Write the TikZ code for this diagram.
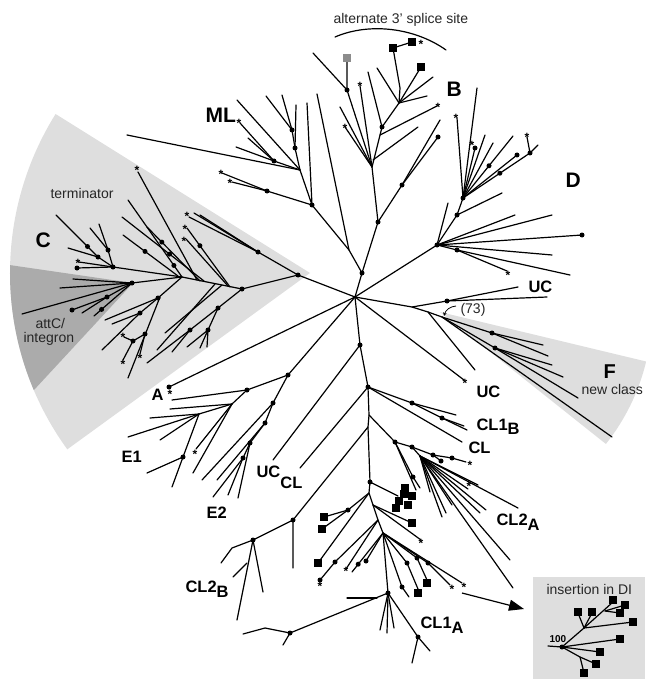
\documentclass[tikz,border=0pt]{standalone}
\usepackage{fontspec}
\setmainfont{Liberation Sans}
\usetikzlibrary{arrows.meta}
\definecolor{shadeL}{HTML}{DEDEDE}
\definecolor{shadeD}{HTML}{ABABAB}
\definecolor{sqgray}{HTML}{8C8C8C}

\begin{document}
\begin{tikzpicture}[
    x=1pt, y=-1pt,
    >=Stealth,
    br/.style={line width=1.2pt, line cap=round, line join=round},
    dot/.style={circle, fill, inner sep=0pt, minimum size=5pt},
    ast/.style={inner sep=0pt, yshift=-2.6pt, font=\bfseries\fontsize{12}{12}\selectfont},
    sq/.style={fill, inner sep=0pt, minimum size=8pt},
    big/.style={anchor=base west, font=\bfseries\fontsize{21}{21}\selectfont},
    lab/.style={anchor=base west, font=\bfseries\fontsize{16.5}{16.5}\selectfont},
    note/.style={anchor=base west, font=\fontsize{14}{14}\selectfont, text=black!85},
]
\useasboundingbox (0,0) rectangle (645,679);

% shaded clades
\fill[shadeL] (310,273) -- ++(212:300) arc[start angle=212, end angle=144, radius=300] -- cycle;
\fill[shadeD] (133,283) -- (10.1,265.1) arc[start angle=181.5, end angle=157, radius=300] -- cycle;
\fill[shadeL] (440,312) -- ++(13.5:212) arc[start angle=13.5, end angle=38.5, radius=212] -- cycle;
\fill[shadeL] (533,577) rectangle (645,679);

\coordinate (hub) at (355,297);

% ML and B
\coordinate (n1) at (362,273);
\coordinate (nA) at (349,250);
\coordinate (MLn) at (312,205);
\coordinate (MLa) at (300,170);
\coordinate (MLb) at (274,161);
\coordinate (MLd) at (295,148);
\coordinate (MLe) at (292,130);
\coordinate (MLf) at (267,191);
\draw[br] (hub) -- (n1) node[dot]{} -- (nA) -- (317,94);
\draw[br] (nA) -- (MLn) node[dot]{} -- (MLa) -- (127,135);
\draw[br] (MLa) -- (MLb) node[dot]{} -- (240,123);
\draw[br] (MLb) -- (236,147);
\draw[br] (MLb) -- (248,138);
\draw[br] (MLa) -- (237,100);
\draw[br] (MLa) -- (MLd) node[dot]{} -- (MLe) node[dot]{} -- (282,95);
\draw[br] (MLe) -- (266,96);
\draw[br] (MLd) -- (296,105);
\draw[br] (MLn) -- (307,103);
\draw[br] (MLn) -- (MLf) node[dot]{} -- (222,173);
\draw[br] (MLf) -- (232,182);

\coordinate (Bn) at (378,222);
\coordinate (Ba) at (372,167);
\coordinate (Bb) at (347,90);
\coordinate (Bc) at (382,127);
\coordinate (Bd) at (399,103);
\coordinate (Be) at (402,185);
\draw[br] (n1) -- (Bn) node[dot]{} -- (Ba) -- (Bc) node[dot]{} -- (Bd) -- (400,88) -- (393,48);
\draw[br] (393,48) -- (412,42);
\draw[br] (Bd) -- (421,67);
\draw[br] (Bd) -- (433,77);
\draw[br] (Bd) -- (427,96);
\draw[br] (Bd) -- (377,68);
\draw[br] (Bc) -- (368,72);
\draw[br] (380,135) -- (437,106);
\draw[br] (373,160) -- (418,127);
\draw[br] (Ba) -- (Bb) node[dot]{} -- (347,58);
\draw[br] (Bb) -- (313,53);
\draw[br] (Ba) -- (360,86);
\draw[br] (Ba) -- (345,127);
\draw[br] (Ba) -- (340,107);
\draw[br] (Bn) -- (Be) node[dot]{} -- (440,120);
\draw[br] (Be) -- (438,137) node[dot]{};

% D
\coordinate (Dn) at (437,245);
\coordinate (Da) at (457,215);
\coordinate (Db) at (463,198);
\coordinate (Dc) at (457,250);
\coordinate (De) at (530,153);
\draw[br] (hub) -- (Dn) node[dot]{} -- (Da) node[dot]{} -- (Db) node[dot]{} -- (477,88);
\draw[br] (Db) -- (457,118);
\draw[br] (Db) -- (475,148) node[dot]{};
\draw[br] (Db) -- (485,135);
\draw[br] (Db) -- (493,143);
\draw[br] (Db) -- node[dot,pos=.52]{} (513,136);
\draw[br] (Db) -- (517,155) node[dot]{};
\draw[br] (Db) -- node[dot,pos=.55]{} (De) node[dot]{} -- (527,137);
\draw[br] (De) -- (538,145);
\draw[br] (Da) -- (502,193);
\draw[br] (Dn) -- (448,203);
\draw[br] (Dn) -- (515,215);
\draw[br] (Dn) -- (552,215);
\draw[br] (Dn) -- (582,235) node[dot]{};
\draw[br] (Dn) -- (552,255);
\draw[br] (Dn) -- (Dc) node[dot]{} -- (570,275);
\draw[br] (Dc) -- (507,271);

% UC and F
\coordinate (Ua) at (412,307);
\coordinate (Ub) at (447,301);
\coordinate (Uc) at (428,312);
\coordinate (Ud) at (442,317);
\coordinate (Fa) at (492,333);
\coordinate (Fb) at (495,348);
\draw[br] (hub) -- (Ua) -- (Ub) node[dot]{} -- (518,287);
\draw[br] (Ub) -- (547,297);
\draw[br] (Ua) -- (Uc) -- (475,370);
\draw[br] (Uc) -- (Ud) -- (Fa) node[dot]{} -- (543,345);
\draw[br] (Fa) -- (548,356);
\draw[br] (Ud) -- (Fb) node[dot]{} -- (552,365);
\draw[br] (Fb) -- (563,377);
\draw[br] (Fb) -- (578,398);
\draw[br] (Ud) -- (612,437);
\draw[br] (hub) -- (464,380);
\draw[-{Stealth[length=3.5pt,width=3.5pt]}, line width=0.8pt] (456,306) to[bend right=35] (444,316);

% C
\coordinate (Cn) at (298,275);
\coordinate (Cu) at (258,252);
\coordinate (C1) at (242,289);
\coordinate (Cs) at (182,277);
\coordinate (C3) at (132,283);
\coordinate (Cl) at (113,267);
\draw[br] (hub) -- (Cn) node[dot]{} -- (C1) node[dot]{} -- (Cs) -- (C3) node[dot]{} -- (73,279);
\draw[br] (C3) -- (60,288);
\draw[br] (C3) -- (22,314);
\draw[br] (C3) -- (107,297) node[dot]{} -- (72,310) node[dot]{};
\draw[br] (107,297) -- (82,313);
\draw[br] (C3) -- node[dot,pos=.8]{} (94,316);
\draw[br] (Cs) -- (Cl) node[dot]{} -- (77,268) node[dot]{};
\draw[br] (Cl) -- (79,262);
\draw[br] (Cl) -- (98,257) node[dot]{} -- node[dot,pos=.25]{} (56,215);
\draw[br] (98,257) -- (68,248);
\draw[br] (Cl) -- (108,250) node[dot]{} -- (90,228);
\draw[br] (108,250) -- (99,224);
\draw[br] (Cn) -- (Cu) node[dot]{} -- (194,213);
\draw[br] (Cu) -- (200,215);
\draw[br] (Cu) -- (189,217);
\draw[br] (230,287) -- node[dot,pos=.7]{} (187,228);
\draw[br] (228,286) -- (186,239);
\draw[br] (197,280) -- (138,172);
\draw[br] (Cs) -- node[dot,pos=.15]{} (128,200);
\draw[br] (204,281) -- node[dot,pos=.42]{} (122,217);
\draw[br] (200,281) -- node[dot,pos=.72]{} (147,227);
\draw[br] (178,276) -- node[dot,pos=.6]{} (123,235);
\draw[br] (C1) -- (218,308) node[dot]{} -- (208,330) node[dot]{} -- (187,347);
\draw[br] (208,330) -- (200,348);
\draw[br] (208,330) -- (207,347);
\draw[br] (218,308) -- (190,330) node[dot]{} -- (147,363);
\draw[br] (190,330) -- (172,352);
\draw[br] (222,285) -- (165,333);
\draw[br] (215,284) -- (157,350);
\draw[br] (Cs) -- (158,298) node[dot]{} -- (105,320);
\draw[br] (158,298) -- (140,313) node[dot]{} -- (112,324);
\draw[br] (140,313) -- (102,350);
\draw[br] (160,297) -- (128,378);
\draw[br] (145,334) node[dot]{} -- (133,341) node[dot]{} -- (124,337);
\draw[br] (133,341) -- (123,360);
\draw[br] (145,334) -- (140,354);

% A and E
\coordinate (En) at (288,375);
\coordinate (Ea) at (247,390);
\coordinate (Eb) at (232,404);
\coordinate (Ec) at (199,414);
\coordinate (Ed) at (183,457);
\coordinate (Ee) at (273,403);
\coordinate (Ef) at (265,423);
\coordinate (Eg) at (250,443);
\coordinate (Eh) at (243,458);
\draw[br] (hub) -- (169,387) node[dot]{};
\draw[br] (hub) -- (En) node[dot]{} -- (Ea) node[dot]{} -- (172,400);
\draw[br] (Ea) -- (Eb) -- (Ec) -- (150,418);
\draw[br] (Eb) -- (170,409);
\draw[br] (Ec) -- (128,437);
\draw[br] (Ec) -- (160,440);
\draw[br] (Ec) -- (Ed) node[dot]{} -- (147,473);
\draw[br] (Ed) -- (172,487);
\draw[br] (Eb) -- (196,449);
\draw[br] (Eb) -- (193,473);
\draw[br] (En) -- (Ee) node[dot]{} -- (Ef) node[dot]{} -- (Eg) node[dot]{} -- (Eh) node[dot]{} -- (213,497);
\draw[br] (Eh) -- (228,495);
\draw[br] (Eg) -- (238,498);
\draw[br] (Ee) -- (202,480);
\draw[br] (Ef) -- (217,480);

% trunk and CL clades
\coordinate (T1) at (360,345);
\coordinate (T2) at (368,387);
\coordinate (T3) at (369,415);
\coordinate (Tq) at (368,427);
\coordinate (T4) at (370,482);
\coordinate (Tl) at (369,493);
\coordinate (T5) at (373,505);
\coordinate (T5b) at (378,520);
\coordinate (T6) at (383,533);
\coordinate (T7) at (388,593);
\coordinate (T8) at (418,637);
\draw[br] (hub) -- (T1) node[dot]{} -- (T2) node[dot]{} -- (T3) -- (Tq) -- (T4) node[dot]{} -- (Tl) -- (T5) -- (T5b) -- (T6) -- (T7) node[dot]{} -- (T8) node[dot]{} -- (412,663);
\draw[br] (T8) -- (430,651);
\draw[br] (T1) -- (273,460);
\draw[br] (T2) -- (300,468);

\coordinate (K1) at (412,403);
\coordinate (K2) at (442,418);
\draw[br] (T2) -- (K1) node[dot]{} -- (K2) node[dot]{} -- (467,430);
\draw[br] (K1) -- (456,415);
\draw[br] (K2) -- (464,426);
\draw[br] (T2) -- (462,442);

\coordinate (L1) at (395,442);
\coordinate (L2) at (412,447);
\coordinate (Lf) at (420,456);
\draw[br] (T3) -- (L1) node[dot]{} -- (L2) node[dot]{} -- (433,455) node[dot]{} -- (452,458) node[dot]{} -- (466,462);
\draw[br] (433,455) -- (441,461) node[dot]{};
\draw[br] (L1) -- (413,477) node[dot]{} -- (420,488);
\draw[br] (L1) -- (416,490);
\draw[br] (L2) -- (Lf);
\foreach \e in {(430,492),(442,517),(446,513),(452,505),(468,489),(478,485),(480,513),(486,510),(518,508),(510,560),(513,588)}
    \draw[br] (Lf) -- \e;

\draw[br] (T4) -- (398,496);
\draw[br] (Tl) -- (348,510) node[dot]{} -- (324,517);
\draw[br] (348,510) -- (322,529);
\draw[br] (Tl) -- (318,563);
\draw[br] (T5) -- (412,523);
\draw[br] (T5) -- (421,540);
\draw[br] (T5b) -- (335,562) node[dot]{} -- (320,580) node[dot]{};
\draw[br] (T5b) -- (346,569);
\draw[br] (T6) -- node[dot,pos=.8]{} (352,572);
\draw[br] (T6) -- (366,561) node[dot]{};
\draw[br] (T6) -- (402,587) node[dot]{} -- (409,597);
\draw[br] (T6) -- (407,563) node[dot]{} -- (418,589);
\draw[br] (T6) -- (417,558) node[dot]{} -- (427,580);
\draw[br] (T6) -- (428,563) node[dot]{} -- (450,585);
\draw[br] (T6) -- (462,583);

\coordinate (G1) at (290,633);
\draw[br] (T7) -- (G1) node[dot]{} -- (265,628) -- (243,634);
\draw[br] (G1) -- (283,645);
\draw[br] (377,598) -- (347,598);
\draw[br] (T7) -- (387,633);
\draw[br] (T7) -- (380,630);
\draw[br] (T7) -- (394,628);

\coordinate (H1) at (293,520);
\coordinate (H2) at (253,540);
\draw[br] (Tq) -- (H1) node[dot]{} -- (293,568);
\draw[br] (H1) -- (H2) node[dot]{} -- (232,548) -- (221,563);
\draw[br] (H2) -- (237,620);
\draw[br] (247,563) -- (233,577);
\draw[br] (H2) -- (263,592);

% inset
\coordinate (ih) at (562,647);
\coordinate (ia) at (584,628);
\coordinate (ic) at (580,657);
\draw[br] (548,646) -- (ih) node[dot]{} -- (ia) -- (613,602);
\draw[br] (ia) -- (578,613);
\draw[br] (ia) -- (592,613);
\draw[br] (ia) -- (633,622);
\draw[br] (605,611) -- (625,605);
\draw[br] (605,611) -- (620,613);
\draw[br] (ih) -- (620,639);
\draw[br] (ih) -- (600,652);
\draw[br] (ih) -- (ic) -- (596,664);
\draw[br] (ic) -- (584,673);
\draw[line width=1.2pt, -{Triangle[length=15pt,width=11pt]}] (462,593) -- (524,609);

% squares and stars
\node[sq, fill=sqgray] (sqg) at (347,58) {};
\foreach \p [count=\i] in {(393,48),(412,42),(421,67),(405,488),(412,496),(399,501),(396,508),(408,505),(404,494),(412,523),(324,517),(322,529),(318,563),(427,583),(418,593),(578,612),(592,612),(613,600),(625,605),(620,613),(633,622),(620,639),(600,652),(596,664),(584,673)}
    \node[sq] (sq\i) at \p {};
\foreach \p [count=\i] in {(239,121),(221,172),(230,181),(360,84),(345,126),(438,105),(421,42),(456,116),(472,143),(527,135),(508,273),(137,168),(187,214),(185,227),(184,239),(78,261),(123,335),(123,362),(140,356),(465,381),(470,463),(469,484),(421,541),(452,587),(464,585),(346,569),(320,584),(195,452),(170,392)}
    \node[ast] (st\i) at \p {*};

% labels
\node[note] (alt) at (330,24) {alternate 3' splice site};
\draw[br] (335,37) .. controls (370,22) and (415,28) .. (446,50);
\node[big] (lML) at (202,123) {ML};
\node[big] (lB) at (443,97) {B};
\node[big] (lD) at (562,187) {D};
\node[big] (lC) at (32,247) {C};
\node[note] (term) at (47,198) {terminator};
\node[note] (attc) at (32,328) {attC/};
\node[note] (integ) at (20,342) {integron};
\node[lab] (lUC1) at (525,292) {UC};
\node[note] (l73) at (457,313) {(73)};
\node[anchor=base west, font=\bfseries\fontsize{20}{20}\selectfont] (lF) at (600,378) {F};
\node[note] (newc) at (578,394) {new class};
\node[lab] (lUC2) at (473,397) {UC};
\node[lab] (lCL1B) at (473,430) {CL1\raisebox{-4pt}{B}};
\node[lab] (lCL) at (465,453) {CL};
\node[lab] (lCL2A) at (493,525) {CL2\raisebox{-5pt}{A}};
\node[lab] (lCL1A) at (417,628) {CL1\raisebox{-5pt}{A}};
\node[lab] (lA) at (148,400) {A};
\node[lab] (lE1) at (118,462) {E1};
\node[lab] (lE2) at (203,518) {E2};
\node[lab] (lUCCL) at (253,477) {UC\raisebox{-11pt}{CL}};
\node[lab] (lCL2B) at (182,592) {CL2\raisebox{-5pt}{B}};
\node[note] (ins) at (543,594) {insertion in DI};
\node[anchor=base west, font=\bfseries\fontsize{10}{10}\selectfont] (l100) at (546,642) {100};
\end{tikzpicture}
\end{document}
